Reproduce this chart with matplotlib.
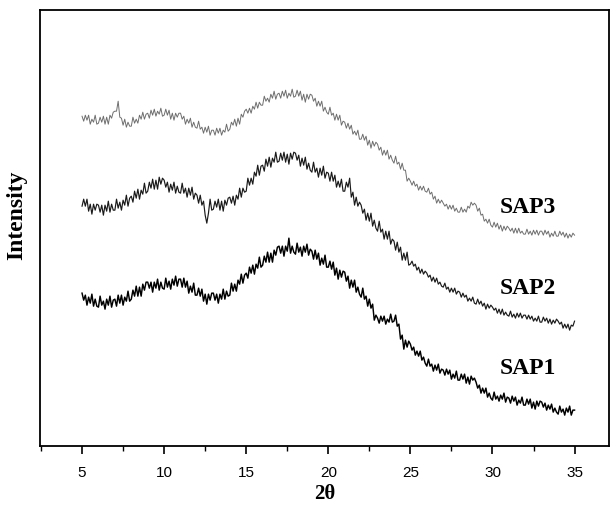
import numpy as np
import matplotlib
matplotlib.use("Agg")
import matplotlib.pyplot as plt
from matplotlib.ticker import MultipleLocator

# 2-theta scan grid, 0.1 deg step
two_theta = np.linspace(5, 35, 301)

# intensities (arbitrary units, curves already offset)
sap3 = [330, 325, 331, 326, 331, 322, 327, 324, 331, 322,
        323, 329, 324, 330, 322, 329, 322, 331, 328, 334,
        335, 335, 345, 329, 328, 321, 327, 319, 324, 320,
        320, 329, 323, 327, 323, 331, 327, 334, 327, 332,
        333, 328, 336, 331, 337, 330, 335, 332, 338, 330,
        331, 337, 331, 336, 327, 333, 326, 333, 329, 333,
        333, 327, 330, 322, 327, 323, 328, 319, 324, 319,
        318, 325, 317, 319, 313, 319, 314, 320, 311, 316,
        316, 311, 318, 313, 318, 311, 316, 314, 322, 315,
        317, 324, 321, 327, 320, 328, 322, 332, 329, 335,
        337, 333, 338, 333, 340, 337, 344, 338, 344, 341,
        341, 350, 345, 348, 344, 352, 348, 355, 347, 352,
        353, 348, 355, 350, 356, 348, 353, 350, 357, 349,
        350, 356, 350, 355, 346, 352, 344, 352, 347, 352,
        351, 345, 348, 340, 345, 340, 345, 335, 339, 334,
        332, 339, 331, 333, 326, 332, 326, 331, 321, 325,
        324, 318, 323, 317, 321, 312, 315, 311, 316, 307,
        307, 312, 306, 310, 301, 306, 298, 305, 300, 304,
        302, 296, 299, 291, 296, 291, 296, 287, 291, 286,
        283, 290, 282, 284, 277, 283, 276, 276, 265, 268,
        265, 261, 265, 260, 262, 256, 260, 256, 260, 255,
        254, 258, 252, 254, 247, 250, 243, 247, 243, 246,
        243, 240, 242, 237, 241, 237, 241, 235, 238, 234,
        234, 239, 234, 237, 234, 240, 238, 244, 241, 243,
        241, 235, 238, 231, 232, 225, 227, 223, 227, 221,
        219, 224, 219, 223, 217, 221, 215, 220, 216, 220,
        218, 215, 218, 213, 218, 213, 218, 213, 215, 212,
        212, 217, 212, 215, 211, 216, 212, 216, 211, 215,
        215, 211, 216, 212, 215, 209, 213, 210, 215, 210,
        210, 215, 211, 214, 209, 213, 208, 212, 209, 213,
        211]

sap2 = [240, 247, 240, 247, 235, 242, 232, 242, 236, 242,
        241, 234, 241, 231, 241, 235, 245, 234, 242, 236,
        236, 247, 238, 244, 236, 246, 241, 251, 240, 248,
        250, 244, 255, 248, 257, 247, 256, 252, 263, 253,
        255, 264, 258, 267, 257, 266, 257, 269, 262, 268,
        266, 259, 264, 254, 262, 256, 264, 253, 260, 254,
        253, 263, 253, 258, 249, 258, 251, 259, 247, 253,
        251, 243, 251, 241, 245, 231, 223, 233, 247, 236,
        237, 245, 239, 247, 236, 245, 235, 246, 241, 248,
        249, 243, 250, 241, 251, 247, 258, 249, 258, 254,
        255, 268, 261, 268, 262, 274, 270, 281, 271, 280,
        281, 275, 287, 280, 289, 279, 288, 284, 294, 284,
        285, 293, 286, 294, 284, 292, 282, 293, 287, 294,
        293, 286, 291, 280, 288, 281, 289, 277, 283, 276,
        274, 284, 274, 278, 269, 278, 271, 280, 268, 274,
        273, 265, 274, 265, 271, 259, 265, 259, 267, 255,
        255, 264, 259, 268, 249, 254, 241, 249, 240, 244,
        241, 233, 237, 226, 233, 225, 233, 220, 226, 218,
        215, 225, 214, 217, 207, 215, 207, 215, 202, 207,
        205, 196, 204, 194, 199, 186, 193, 186, 194, 181,
        182, 185, 180, 182, 176, 179, 173, 177, 172, 175,
        173, 169, 171, 165, 169, 164, 168, 162, 164, 160,
        159, 163, 157, 159, 154, 158, 154, 158, 152, 155,
        154, 149, 153, 149, 151, 145, 148, 145, 149, 143,
        142, 147, 142, 145, 140, 143, 137, 142, 138, 141,
        139, 136, 138, 133, 137, 132, 137, 131, 134, 131,
        130, 135, 129, 132, 128, 133, 129, 133, 128, 131,
        131, 127, 131, 127, 130, 125, 128, 125, 130, 124,
        124, 129, 125, 128, 123, 127, 122, 126, 123, 127,
        125, 122, 124, 118, 122, 118, 122, 116, 121, 120,
        125]

sap1 = [153, 146, 151, 141, 149, 143, 152, 140, 147, 140,
        139, 150, 141, 145, 137, 147, 141, 150, 139, 146,
        147, 140, 151, 143, 151, 141, 149, 145, 155, 145,
        147, 156, 150, 160, 150, 159, 150, 162, 156, 164,
        164, 158, 164, 154, 164, 158, 167, 156, 164, 158,
        157, 168, 159, 165, 157, 167, 161, 170, 160, 167,
        167, 159, 168, 159, 165, 153, 160, 154, 163, 151,
        151, 158, 150, 157, 145, 152, 142, 152, 146, 153,
        153, 146, 152, 143, 152, 147, 157, 147, 155, 150,
        151, 163, 155, 162, 155, 166, 162, 172, 163, 171,
        173, 168, 179, 173, 181, 172, 182, 178, 189, 179,
        181, 190, 184, 194, 184, 193, 184, 196, 191, 199,
        200, 193, 200, 190, 200, 195, 208, 193, 200, 194,
        192, 203, 194, 199, 190, 200, 194, 202, 191, 197,
        195, 187, 196, 187, 193, 181, 188, 182, 191, 179,
        179, 185, 177, 184, 171, 178, 167, 176, 169, 175,
        174, 165, 170, 158, 166, 159, 166, 154, 159, 152,
        149, 158, 147, 150, 140, 147, 138, 142, 126, 131,
        128, 123, 130, 125, 130, 122, 127, 124, 132, 124,
        125, 131, 120, 122, 107, 111, 97, 106, 99, 105,
        102, 96, 99, 91, 95, 90, 95, 86, 89, 83,
        80, 87, 80, 82, 75, 81, 76, 82, 73, 77,
        76, 71, 77, 72, 76, 67, 72, 68, 75, 66,
        66, 72, 67, 72, 63, 69, 62, 70, 66, 68,
        64, 58, 61, 53, 58, 53, 58, 49, 53, 48,
        46, 54, 47, 50, 45, 51, 47, 53, 44, 49,
        48, 43, 50, 45, 49, 41, 46, 43, 49, 41,
        41, 47, 42, 47, 38, 44, 37, 45, 40, 45,
        44, 39, 43, 36, 41, 37, 42, 34, 38, 34,
        32, 40, 34, 37, 31, 38, 34, 40, 31, 36,
        36]

names = ["SAP1", "SAP2", "SAP3"]
label_y = [78, 158, 239]

serif = ["Liberation Serif", "DejaVu Serif"]

fig = plt.figure(figsize=(6.1, 5.11), dpi=100)
ax = fig.add_axes([0.0656, 0.127, 0.932, 0.853])

ax.plot(two_theta, sap3, color="#6e6e6e", lw=0.7)
ax.plot(two_theta, sap2, color="#1a1a1a", lw=0.85)
ax.plot(two_theta, sap1, color="black", lw=1.05)

for name, yy in zip(names, label_y):
    ax.text(30.45, yy, name, fontsize=17, fontweight="bold",
            family=serif, va="center", ha="left")

ax.set_xlim(2.44, 37.07)
ax.set_ylim(0, 436)
ax.xaxis.set_minor_locator(MultipleLocator(2.5))
ax.set_xticks([5, 10, 15, 20, 25, 30, 35])
ax.set_yticks([])
ax.tick_params(axis="x", which="major", direction="out", length=6,
               width=1.2, pad=8, labelsize=11)
ax.tick_params(axis="x", which="minor", direction="out", length=3.5, width=1.0)
for lbl in ax.get_xticklabels():
    lbl.set_family("Liberation Sans")
for sp in ax.spines.values():
    sp.set_linewidth(1.3)

ax.set_xlabel("2\u03b8", fontsize=15, fontweight="bold", family=serif)
ax.xaxis.set_label_coords(0.5, -0.088)
ax.set_ylabel("Intensity", fontsize=17, fontweight="bold", family=serif)
ax.yaxis.set_label_coords(-0.022, 0.53)

fig.savefig("out.png", dpi=100)
